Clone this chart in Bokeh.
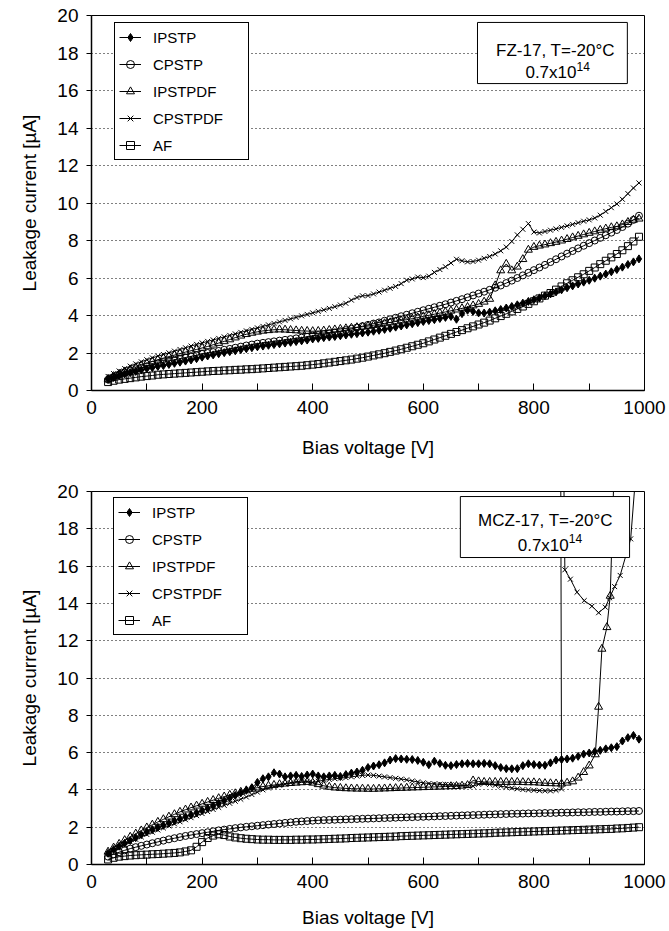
from bokeh.plotting import figure
from bokeh.layouts import column
from bokeh.models import FixedTicker, Legend, LegendItem, BoxAnnotation, Label, Range1d
from bokeh.embed import file_html
from bokeh.resources import INLINE

# Bias voltage steps (V)
bias_v = list(range(30, 1000, 10))

# ---- FZ-17, T=-20°C, 0.7x10^14 : leakage current (µA) ----
fz_ipstp = [
    0.60, 0.70, 0.80, 0.88, 0.95, 1.02, 1.09, 1.16, 1.22, 1.28,
    1.33, 1.39, 1.45, 1.51, 1.57, 1.63, 1.70, 1.78, 1.84, 1.90,
    1.96, 2.02, 2.07, 2.12, 2.18, 2.23, 2.28, 2.33, 2.37, 2.41,
    2.45, 2.49, 2.53, 2.57, 2.61, 2.65, 2.69, 2.75, 2.78, 2.82,
    2.85, 2.88, 2.92, 2.96, 3.00, 3.03, 3.07, 3.11, 3.16, 3.21,
    3.26, 3.32, 3.38, 3.44, 3.50, 3.56, 3.62, 3.68, 3.73, 3.78,
    3.84, 3.90, 3.95, 3.80, 4.10, 4.28, 4.22, 4.14, 4.13, 4.18,
    4.25, 4.32, 4.40, 4.48, 4.57, 4.66, 4.75, 4.84, 4.94, 5.05,
    5.15, 5.26, 5.37, 5.48, 5.58, 5.68, 5.78, 5.88, 5.99, 6.10,
    6.21, 6.33, 6.45, 6.58, 6.72, 6.86, 7.02,
]
fz_cpstp = [
    0.58, 0.72, 0.84, 0.95, 1.04, 1.13, 1.21, 1.29, 1.37, 1.44,
    1.51, 1.58, 1.64, 1.70, 1.76, 1.82, 1.88, 1.95, 2.00, 2.05,
    2.11, 2.17, 2.22, 2.28, 2.34, 2.40, 2.45, 2.50, 2.54, 2.58,
    2.62, 2.66, 2.70, 2.74, 2.78, 2.82, 2.86, 2.92, 2.96, 3.00,
    3.05, 3.10, 3.16, 3.22, 3.29, 3.36, 3.43, 3.50, 3.57, 3.63,
    3.72, 3.80, 3.88, 3.96, 4.04, 4.12, 4.20, 4.28, 4.36, 4.44,
    4.52, 4.60, 4.69, 4.78, 4.87, 4.97, 5.07, 5.17, 5.27, 5.37,
    5.48, 5.60, 5.73, 5.86, 6.00, 6.14, 6.28, 6.42, 6.56, 6.70,
    6.85, 7.00, 7.15, 7.30, 7.44, 7.58, 7.72, 7.86, 8.00, 8.14,
    8.28, 8.42, 8.56, 8.72, 8.90, 9.10, 9.32,
]
fz_ipstpdf = [
    0.62, 0.76, 0.89, 1.01, 1.12, 1.23, 1.34, 1.45, 1.55, 1.64,
    1.73, 1.81, 1.89, 1.97, 2.05, 2.12, 2.19, 2.27, 2.35, 2.44,
    2.53, 2.62, 2.72, 2.82, 2.92, 3.00, 3.07, 3.13, 3.18, 3.21,
    3.24, 3.25, 3.24, 3.22, 3.20, 3.18, 3.17, 3.16, 3.17, 3.19,
    3.22, 3.25, 3.28, 3.31, 3.34, 3.37, 3.40, 3.44, 3.48, 3.53,
    3.58, 3.63, 3.68, 3.73, 3.78, 3.83, 3.89, 3.95, 4.01, 4.07,
    4.13, 4.19, 4.25, 4.31, 4.38, 4.45, 4.53, 4.61, 4.73, 4.88,
    5.60, 6.40, 6.75, 6.40, 6.60, 7.00, 7.50, 7.65, 7.72, 7.78,
    7.85, 7.92, 7.99, 8.07, 8.16, 8.24, 8.32, 8.40, 8.48, 8.56,
    8.63, 8.70, 8.75, 8.85, 8.98, 9.10, 9.16,
]
fz_cpstpdf = [
    0.75, 0.90, 1.04, 1.17, 1.30, 1.42, 1.53, 1.64, 1.74, 1.83,
    1.92, 2.01, 2.10, 2.19, 2.28, 2.37, 2.46, 2.54, 2.62, 2.70,
    2.78, 2.86, 2.94, 3.02, 3.10, 3.18, 3.26, 3.34, 3.42, 3.50,
    3.58, 3.66, 3.74, 3.82, 3.90, 3.98, 4.06, 4.14, 4.22, 4.30,
    4.38, 4.47, 4.56, 4.65, 4.82, 4.96, 5.05, 5.06, 5.15, 5.25,
    5.35, 5.45, 5.55, 5.70, 5.88, 5.95, 6.05, 6.02, 6.10, 6.30,
    6.45, 6.60, 6.80, 7.00, 6.92, 6.86, 6.88, 6.95, 7.05, 7.15,
    7.28, 7.45, 7.65, 7.95, 8.30, 8.60, 8.90, 8.45, 8.40, 8.48,
    8.55, 8.62, 8.70, 8.78, 8.86, 8.95, 9.03, 9.10, 9.20, 9.35,
    9.55, 9.75, 9.95, 10.20, 10.50, 10.80, 11.07,
]
fz_af = [
    0.45, 0.52, 0.58, 0.62, 0.66, 0.70, 0.74, 0.77, 0.80, 0.84,
    0.86, 0.88, 0.90, 0.92, 0.94, 0.96, 0.98, 1.00, 1.02, 1.04,
    1.05, 1.07, 1.08, 1.10, 1.11, 1.13, 1.14, 1.16, 1.18, 1.20,
    1.22, 1.24, 1.26, 1.28, 1.30, 1.32, 1.35, 1.38, 1.41, 1.45,
    1.49, 1.53, 1.57, 1.61, 1.65, 1.70, 1.75, 1.81, 1.87, 1.93,
    1.99, 2.06, 2.13, 2.20, 2.28, 2.36, 2.44, 2.52, 2.62, 2.72,
    2.82, 2.92, 3.02, 3.12, 3.22, 3.32, 3.42, 3.52, 3.62, 3.73,
    3.85, 3.97, 4.09, 4.22, 4.35, 4.48, 4.62, 4.76, 4.91, 5.06,
    5.20, 5.38, 5.55, 5.72, 5.88, 6.04, 6.20, 6.38, 6.56, 6.74,
    6.92, 7.10, 7.28, 7.48, 7.70, 7.95, 8.20,
]

# ---- MCZ-17, T=-20°C, 0.7x10^14 : leakage current (µA) ----
mcz_ipstp = [
    0.60, 0.80, 0.98, 1.14, 1.29, 1.44, 1.60, 1.75, 1.87, 1.99,
    2.10, 2.22, 2.34, 2.45, 2.56, 2.67, 2.78, 2.90, 3.02, 3.15,
    3.28, 3.42, 3.56, 3.70, 3.84, 3.98, 4.12, 4.40, 4.60, 4.70,
    4.92, 4.85, 4.70, 4.75, 4.78, 4.72, 4.80, 4.85, 4.75, 4.70,
    4.75, 4.78, 4.72, 4.82, 4.90, 4.96, 5.05, 5.20, 5.28, 5.35,
    5.45, 5.60, 5.68, 5.66, 5.64, 5.63, 5.58, 5.48, 5.35, 5.54,
    5.42, 5.32, 5.30, 5.36, 5.40, 5.42, 5.40, 5.40, 5.42, 5.40,
    5.30, 5.20, 5.14, 5.13, 5.14, 5.30, 5.40, 5.36, 5.33, 5.32,
    5.45, 5.60, 5.63, 5.66, 5.70, 5.80, 5.92, 5.98, 6.05, 6.12,
    6.20, 6.26, 6.32, 6.62, 6.80, 6.92, 6.72,
]
mcz_cpstp = [
    0.42, 0.55, 0.66, 0.76, 0.85, 0.93, 1.00, 1.07, 1.14, 1.21,
    1.28, 1.35, 1.41, 1.47, 1.53, 1.58, 1.63, 1.68, 1.73, 1.78,
    1.83, 1.87, 1.91, 1.95, 1.99, 2.02, 2.05, 2.08, 2.11, 2.14,
    2.17, 2.20, 2.23, 2.26, 2.29, 2.31, 2.33, 2.35, 2.37, 2.38,
    2.39, 2.40, 2.41, 2.42, 2.43, 2.44, 2.45, 2.46, 2.47, 2.48,
    2.49, 2.50, 2.51, 2.52, 2.53, 2.54, 2.55, 2.56, 2.57, 2.58,
    2.59, 2.60, 2.61, 2.62, 2.63, 2.64, 2.65, 2.66, 2.67, 2.68,
    2.69, 2.70, 2.71, 2.72, 2.72, 2.73, 2.74, 2.74, 2.75, 2.76,
    2.76, 2.77, 2.78, 2.78, 2.79, 2.80, 2.80, 2.81, 2.82, 2.82,
    2.83, 2.84, 2.84, 2.85, 2.86, 2.86, 2.87,
]
mcz_af = [
    0.27, 0.36, 0.42, 0.45, 0.48, 0.50, 0.52, 0.53, 0.55, 0.56,
    0.58, 0.60, 0.62, 0.65, 0.70, 0.76, 0.95, 1.20, 1.42, 1.55,
    1.62, 1.58, 1.50, 1.45, 1.41, 1.38, 1.36, 1.34, 1.33, 1.33,
    1.32, 1.32, 1.32, 1.32, 1.33, 1.33, 1.34, 1.34, 1.35, 1.36,
    1.37, 1.38, 1.39, 1.40, 1.42, 1.43, 1.44, 1.45, 1.46, 1.47,
    1.48, 1.49, 1.50, 1.52, 1.53, 1.54, 1.55, 1.56, 1.57, 1.58,
    1.59, 1.60, 1.61, 1.62, 1.63, 1.64, 1.65, 1.66, 1.67, 1.68,
    1.70, 1.71, 1.72, 1.73, 1.74, 1.75, 1.76, 1.77, 1.78, 1.79,
    1.80, 1.81, 1.82, 1.83, 1.84, 1.85, 1.86, 1.87, 1.88, 1.89,
    1.90, 1.91, 1.93, 1.94, 1.96, 1.98, 2.00,
]
# IPSTPDF and CPSTPDF break down near 850 V; their last readings were
# taken at irregular voltages, so they carry their own voltage lists.
mcz_ipstpdf_v = list(range(30, 850, 10)) + [
    850, 860, 870, 880, 890, 900, 911, 917, 923, 932, 938, 948, 958]
mcz_ipstpdf = [
    0.68, 0.90, 1.10, 1.30, 1.48, 1.65, 1.82, 1.98, 2.13, 2.28,
    2.42, 2.56, 2.69, 2.82, 2.94, 3.05, 3.15, 3.25, 3.35, 3.45,
    3.55, 3.64, 3.73, 3.81, 3.89, 3.97, 4.05, 4.12, 4.18, 4.22,
    4.26, 4.30, 4.33, 4.36, 4.38, 4.40, 4.42, 4.38, 4.30, 4.22,
    4.16, 4.12, 4.10, 4.08, 4.07, 4.06, 4.06, 4.05, 4.05, 4.06,
    4.07, 4.08, 4.09, 4.10, 4.11, 4.12, 4.13, 4.14, 4.15, 4.16,
    4.17, 4.18, 4.19, 4.20, 4.22, 4.25, 4.50, 4.45, 4.42, 4.42,
    4.42, 4.42, 4.42, 4.42, 4.42, 4.41, 4.40, 4.40, 4.38, 4.36,
    4.35, 4.34,
    4.33, 4.38, 4.45, 4.65, 4.95, 5.30, 5.90, 8.45, 11.56, 12.72, 14.40, 24.0, 34.0,
]
mcz_cpstpdf_v = list(range(30, 850, 10)) + [
    850, 847, 856, 866, 878, 891, 905, 917, 929, 937, 946, 956, 975, 987]
mcz_cpstpdf = [
    0.58, 0.76, 0.92, 1.07, 1.21, 1.35, 1.48, 1.61, 1.73, 1.85,
    1.96, 2.07, 2.18, 2.29, 2.40, 2.51, 2.62, 2.73, 2.84, 2.95,
    3.06, 3.17, 3.28, 3.39, 3.50, 3.62, 3.75, 3.88, 4.00, 4.10,
    4.18, 4.25, 4.32, 4.38, 4.44, 4.48, 4.45, 4.40, 4.46, 4.52,
    4.56, 4.60, 4.63, 4.66, 4.70, 4.74, 4.78, 4.80, 4.78, 4.74,
    4.70, 4.66, 4.62, 4.58, 4.54, 4.48, 4.43, 4.38, 4.34, 4.32,
    4.30, 4.28, 4.27, 4.25, 4.24, 4.22, 4.20, 4.30, 4.35, 4.30,
    4.25, 4.20, 4.15, 4.10, 4.06, 4.02, 4.00, 3.98, 3.96, 3.95,
    3.95, 3.98,
    4.05, 40.0, 15.8, 15.3, 14.6, 14.15, 13.85, 13.5, 13.8, 14.3, 14.9, 15.5, 17.46, 22.0,
]

series_names = ["IPSTP", "CPSTP", "IPSTPDF", "CPSTPDF", "AF"]
markers = {
    "IPSTP": dict(marker="diamond", size=8, fill_color="black"),
    "CPSTP": dict(marker="circle", size=7, fill_color=None),
    "IPSTPDF": dict(marker="triangle", size=8, fill_color=None),
    "CPSTPDF": dict(marker="x", size=7, fill_color=None),
    "AF": dict(marker="square", size=7, fill_color=None),
}

FONT = "Liberation Sans"


def make_panel(series, height, border_top, border_bottom, legend_loc,
               xlabel_standoff, box, line1, line2, sup):
    p = figure(width=669, height=height, output_backend="svg",
               toolbar_location=None,
               x_range=Range1d(0, 1000), y_range=Range1d(0, 20),
               min_border_left=91, min_border_right=25,
               min_border_top=border_top, min_border_bottom=border_bottom)
    p.background_fill_color = "white"
    p.border_fill_color = "white"
    p.outline_line_color = "black"
    p.outline_line_width = 1
    p.outline_line_alpha = 1.0

    p.xaxis.ticker = FixedTicker(ticks=[0, 200, 400, 600, 800, 1000],
                                 minor_ticks=[100, 300, 500, 700, 900])
    p.yaxis.ticker = FixedTicker(ticks=list(range(0, 21, 2)))
    for ax in (p.xaxis, p.yaxis):
        ax.axis_line_color = "black"
        ax.axis_line_width = 1.5
        ax.major_tick_line_color = "black"
        ax.minor_tick_line_color = "black"
        ax.major_label_text_font = FONT
        ax.major_label_text_font_size = "19px"
        ax.major_label_text_color = "black"
        ax.axis_label_text_font = FONT
        ax.axis_label_text_font_size = "19px"
        ax.axis_label_text_font_style = "normal"
        ax.axis_label_text_color = "black"
    p.xaxis.major_tick_in = 7
    p.xaxis.major_tick_out = 0
    p.xaxis.minor_tick_in = 7
    p.xaxis.minor_tick_out = 0
    p.xaxis.major_label_standoff = 10
    p.xaxis.axis_label_standoff = xlabel_standoff
    p.xaxis.axis_label = "Bias voltage [V]"
    p.yaxis.major_tick_in = 0
    p.yaxis.major_tick_out = 5
    p.yaxis.minor_tick_in = 0
    p.yaxis.minor_tick_out = 0
    p.yaxis.major_label_standoff = 8
    p.yaxis.axis_label_standoff = 14
    p.yaxis.axis_label = "Leakage current [µA]"

    p.xgrid.grid_line_color = None
    p.ygrid.grid_line_color = "black"
    p.ygrid.grid_line_width = 1
    p.ygrid.grid_line_dash = "1 3"

    items = []
    for name in series_names:
        xs, ys = series[name]
        ln = p.line(xs, ys, line_color="black", line_width=1)
        st = markers[name]
        sc = p.scatter(xs, ys, marker=st["marker"], size=st["size"],
                       line_color="black", line_width=1,
                       fill_color=st["fill_color"])
        items.append(LegendItem(label=name, renderers=[ln, sc]))

    legend = Legend(items=items, location=legend_loc,
                    glyph_width=22, glyph_height=20,
                    label_height=20, label_width=91, label_standoff=12,
                    spacing=7, padding=4, margin=0,
                    label_text_font=FONT, label_text_font_size="15px",
                    label_text_color="black",
                    border_line_color="black", border_line_width=1,
                    border_line_alpha=1.0,
                    background_fill_color="white", background_fill_alpha=1.0)
    p.add_layout(legend)

    left, right, bottom, top = box
    p.add_layout(BoxAnnotation(left=left, right=right, bottom=bottom, top=top,
                               fill_color="white", fill_alpha=1.0,
                               line_color="black", line_alpha=1.0,
                               line_width=1))
    tx, ty, text = line1
    p.add_layout(Label(x=tx, y=ty, text=text, text_align="center",
                       text_baseline="alphabetic", text_font=FONT,
                       text_font_size="17px", text_color="black"))
    tx, ty, text = line2
    p.add_layout(Label(x=tx, y=ty, text=text, text_align="right",
                       text_baseline="alphabetic", text_font=FONT,
                       text_font_size="17px", text_color="black"))
    tx, ty, text = sup
    p.add_layout(Label(x=tx, y=ty, text=text, text_align="left",
                       text_baseline="alphabetic", text_font=FONT,
                       text_font_size="12px", text_color="black"))
    return p


fz_series = {
    "IPSTP": (bias_v, fz_ipstp),
    "CPSTP": (bias_v, fz_cpstp),
    "IPSTPDF": (bias_v, fz_ipstpdf),
    "CPSTPDF": (bias_v, fz_cpstpdf),
    "AF": (bias_v, fz_af),
}
mcz_series = {
    "IPSTP": (bias_v, mcz_ipstp),
    "CPSTP": (bias_v, mcz_cpstp),
    "IPSTPDF": (mcz_ipstpdf_v, mcz_ipstpdf),
    "CPSTPDF": (mcz_cpstpdf_v, mcz_cpstpdf),
    "AF": (bias_v, mcz_af),
}

p1 = make_panel(fz_series, 465, 15, 75, (23, 230), 20,
                (698, 969, 16.37, 19.63),
                (839, 18.13, "FZ-17, T=-20°C"),
                (877, 16.96, "0.7x10"),
                (877, 17.3, "14"))
p2 = make_panel(mcz_series, 466, 26, 67, (22, 229), 16,
                (667, 973, 16.46, 19.73),
                (821, 18.44, "MCZ-17, T=-20°C"),
                (863, 17.1, "0.7x10"),
                (863, 17.46, "14"))

layout = column(p1, p2, spacing=0)
open("out.html", "w").write(file_html(layout, INLINE))
